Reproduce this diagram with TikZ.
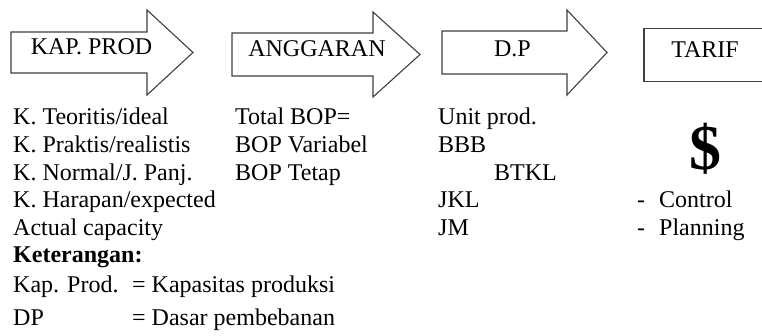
\documentclass[tikz,border=0pt]{standalone}
\usepackage{fontspec}
\setmainfont{Liberation Serif}
\usepackage{xcolor}
\usetikzlibrary{positioning}
\definecolor{garis}{RGB}{64, 64, 64}

\tikzset{
  panah/.style={draw=garis, line width=1.1pt, fill=white},
  teks/.style={anchor=base west, inner sep=0pt, font=\fontsize{24}{28}\selectfont},
  judul/.style={teks, anchor=base},
}

\begin{document}
\begin{tikzpicture}[x=1pt, y=-1pt]
\useasboundingbox (0,0) rectangle (762,336);
\clip (0,0) rectangle (762,336);

% panah blok
\draw[panah] (11,32) -- (147,32) -- (147,10) -- (193,52.5) -- (147,95) -- (147,73) -- (11,73) -- cycle;
\draw[panah] (232,33) -- (373,33) -- (373,12) -- (420,54.5) -- (373,97) -- (373,76) -- (232,76) -- cycle;
\draw[panah] (442,31) -- (567,31) -- (567,10) -- (607,52.5) -- (567,95) -- (567,74) -- (442,74) -- cycle;
\node[draw=garis, line width=1.5pt, anchor=north west, minimum width=140pt, minimum height=53pt, inner sep=0pt] (kotak) at (643,28) {};

\node[judul] (kapprod) at (91.5,55) {KAP. PROD};
\node[judul] (anggaran) at (317,57) {ANGGARAN};
\node[judul] (dp) at (512.5,57) {D.P};
\node[judul] (tarif) at (705,58) {TARIF};

% kapasitas
\node[teks] (teoritis) at (13,125) {K. Teoritis/ideal};
\node[teks] (praktis) at (13,152.6) {K. Praktis/realistis};
\node[teks] (normal) at (13,180.2) {K. Normal/J. Panj.};
\node[teks] (harapan) at (13,207.8) {K. Harapan/expected};
\node[teks] (actual) at (13,235.4) {Actual capacity};

% anggaran
\node[teks] (totalbop) at (235,125) {Total BOP=};
\node[teks] (bopvar) at (235,152.6) {BOP Variabel};
\node[teks] (boptetap) at (235,180.2) {BOP Tetap};

% dasar pembebanan
\node[teks] (unitprod) at (438,125) {Unit prod.};
\node[teks] (bbb) at (438,152.6) {BBB};
\node[teks] (btkl) at (494,180.2) {BTKL};
\node[teks] (jkl) at (438,207.8) {JKL};
\node[teks] (jm) at (438,235.4) {JM};

% tarif
\node[anchor=base, inner sep=0pt, font=\fontsize{64}{64}\selectfont\bfseries] (dolar) at (705.5,170) {\$};
\node[teks] (control) at (637,207.8) {-\hspace{14pt}Control};
\node[teks] (planning) at (637,235.4) {-\hspace{14pt}Planning};

% keterangan
\node[teks, font=\fontsize{24}{28}\selectfont\bfseries] (ket) at (13,263) {Keterangan:};
\node[teks] (kapsingkat) at (13,292) {Kap. Prod.};
\node[teks] (kaparti) at (132,292) {= Kapasitas produksi};
\node[teks] (dpsingkat) at (13,325) {DP};
\node[teks] (dparti) at (132,325) {= Dasar pembebanan};
\end{tikzpicture}
\end{document}
